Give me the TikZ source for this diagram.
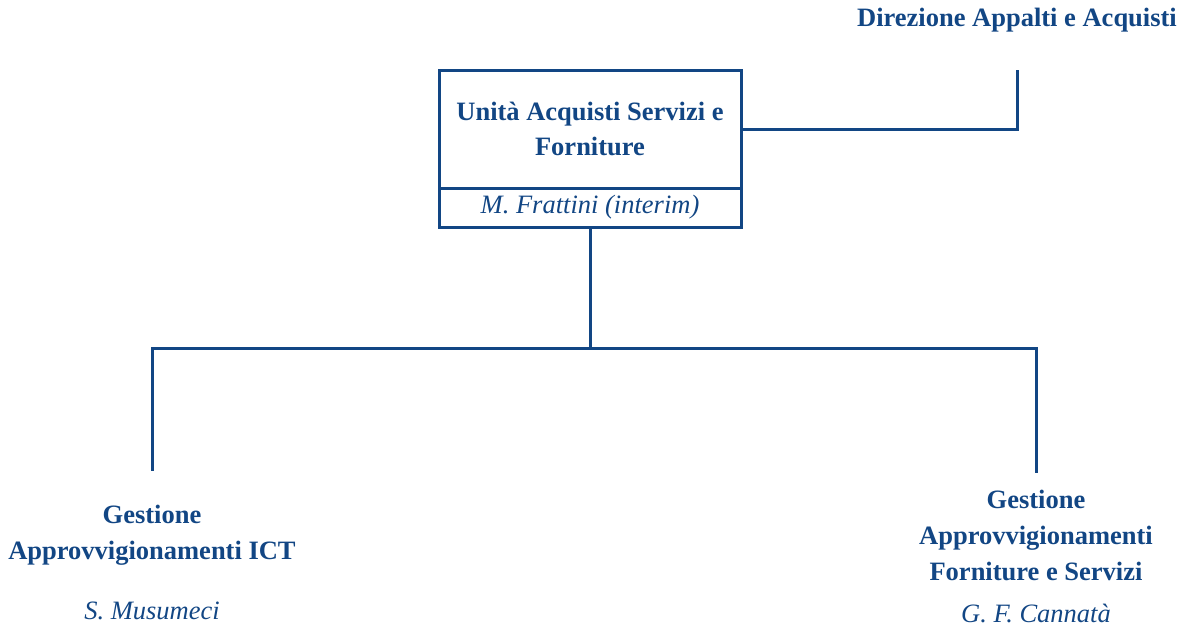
\documentclass[tikz,border=0pt]{standalone}
\usepackage{fontspec}
\setmainfont{Liberation Serif}
\definecolor{orgblue}{RGB}{18,70,132}
\begin{document}
\begin{tikzpicture}[x=1pt,y=-1pt,line width=3pt,
    unitbox/.style={draw=orgblue,text=orgblue,font=\fontsize{26.5}{35}\selectfont\bfseries,align=center,minimum width=302pt,minimum height=118pt,inner sep=0pt,outer sep=0pt},
    namebox/.style={draw=orgblue,text=orgblue,font=\fontsize{26.5}{30}\selectfont\itshape,minimum width=302pt,minimum height=39pt,inner sep=0pt,outer sep=0pt},
    office/.style={text=orgblue,font=\fontsize{26.5}{36}\selectfont\bfseries,align=center},
    head/.style={text=orgblue,font=\fontsize{26.5}{30}\selectfont\itshape}]
\useasboundingbox (0,0) rectangle (1187,635);
\node[unitbox](unit) at (590,129){Unità Acquisti Servizi e\\Forniture};
\node[namebox,anchor=north](interim) at (unit.south){M. Frattini (interim)};
\node[office](dir) at (1017,20){Direzione Appalti e Acquisti};
\coordinate (dirfoot) at (1017,70);
\draw[orgblue](unit.east)-|(dirfoot);
% tree
\coordinate (hub) at (590,348);
\coordinate (ictfoot) at (152,471);
\coordinate (fsfoot) at (1036,473);
\draw[orgblue](interim.south)--(hub);
\draw[orgblue](hub)-|(ictfoot);
\draw[orgblue](hub)-|(fsfoot);
\node[office](ict) at (152,535){Gestione\\Approvvigionamenti ICT};
\node[head](musumeci) at (152,611){S. Musumeci};
\node[office](fs) at (1036,535){Gestione\\Approvvigionamenti\\Forniture e Servizi};
\node[head](cannata) at (1036,613){G. F. Cannatà};
\end{tikzpicture}
\end{document}
